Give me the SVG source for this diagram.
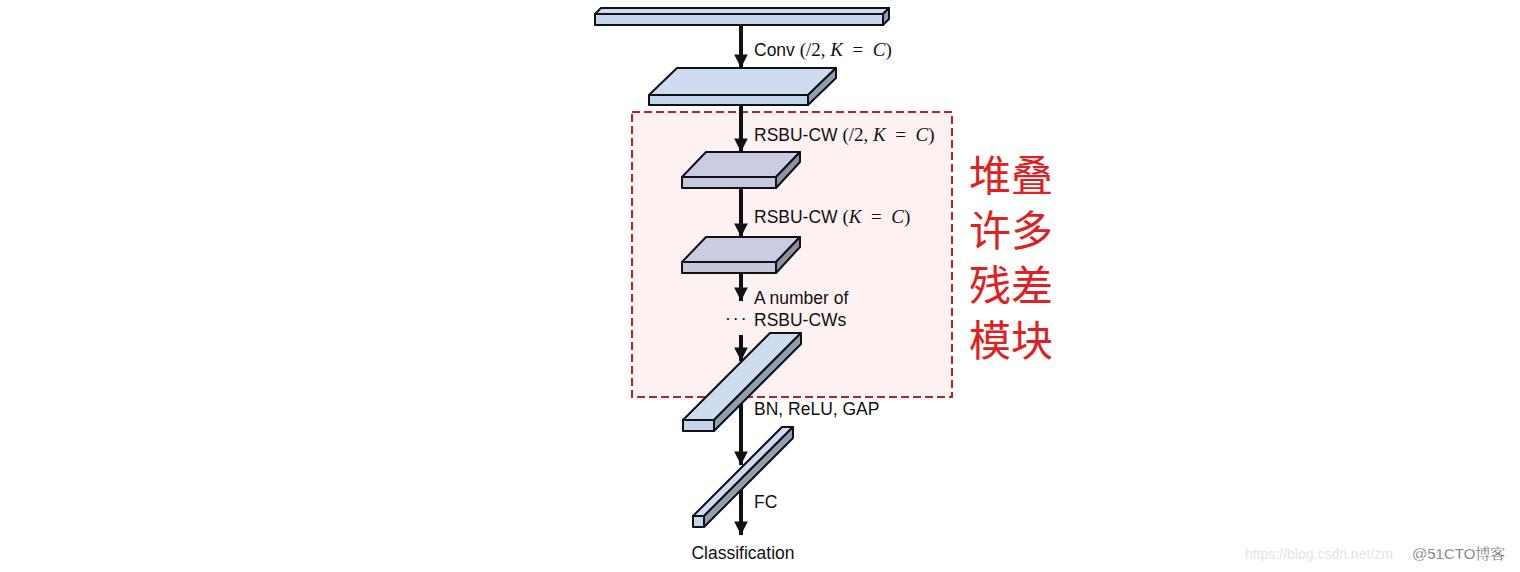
<svg xmlns="http://www.w3.org/2000/svg" width="1520" height="572" viewBox="0 0 1520 572">
<style>
.s{stroke:#111;stroke-width:2;stroke-linejoin:round}
.bf{fill:#c3d5ea}.bt{fill:#cddcee}.bs{fill:#8e9fb2}
.lf{fill:#c4c8df}.lt{fill:#c9cce2}.ls{fill:#8d90a6}
.lbl{font-family:"Liberation Sans",Arial,sans-serif;font-size:17.5px;fill:#111}
.m{font-family:"Liberation Serif","Times New Roman",serif;font-size:19px}
.i{font-style:italic}
.cn{font-family:"Noto Sans CJK SC",sans-serif;font-size:42px;fill:#e02020}
.c{stroke:#111;stroke-width:4;fill:none}
</style>
<defs>
<marker id="ah" viewBox="0 0 10 10" refX="10" refY="5" markerWidth="3.8" markerHeight="3.4" orient="auto" markerUnits="strokeWidth">
<path d="M0,0 L10,5 L0,10 z" fill="#111"/>
</marker>
</defs>
<rect width="1520" height="572" fill="#fff"/>
<g id="stack-box">
<rect x="632" y="112" width="320" height="285" fill="#fdf1f1" stroke="#b8232b" stroke-width="2" stroke-dasharray="8,4"/>
</g>
<g id="connectors">
<line class="c" x1="741" y1="25" x2="741" y2="68" marker-end="url(#ah)"/>
<line class="c" x1="741" y1="105" x2="741" y2="152" marker-end="url(#ah)"/>
<line class="c" x1="741" y1="188" x2="741" y2="237" marker-end="url(#ah)"/>
<line class="c" x1="741" y1="273" x2="741" y2="301" marker-end="url(#ah)"/>
<line class="c" x1="741" y1="335" x2="741" y2="361" marker-end="url(#ah)"/>
<line class="c" x1="741" y1="401" x2="741" y2="465" marker-end="url(#ah)"/>
<line class="c" x1="741" y1="489" x2="741" y2="535" marker-end="url(#ah)"/>
</g>
<g id="input">
<polygon class="s bt" points="595,14 601,8 889,8 883,14"/>
<polygon class="s bs" points="883,14 889,8 889,19 883,25"/>
<rect class="s bf" x="595" y="14" width="288" height="11"/>
</g>
<g id="conv">
<polygon class="s bt" points="649,95 677,68 836,68 808,95"/>
<polygon class="s bs" points="808,95 836,68 836,78 808,105"/>
<rect class="s bf" x="649" y="95" width="159" height="10"/>
</g>
<g id="rsbu1">
<polygon class="s lt" points="682,177 706,152 800,152 776,177"/>
<polygon class="s ls" points="776,177 800,152 800,162 776,188"/>
<rect class="s lf" x="682" y="177" width="94" height="11"/>
</g>
<g id="rsbu2">
<polygon class="s lt" points="682,262 706,237 800,237 776,262"/>
<polygon class="s ls" points="776,262 800,237 800,247 776,273"/>
<rect class="s lf" x="682" y="262" width="94" height="11"/>
</g>
<g id="rsbu-last">
<polygon class="s bt" points="683,420 770,333 801,333 714,420"/>
<polygon class="s bs" points="714,420 801,333 801,344 714,431"/>
<rect class="s bf" x="683" y="420" width="31" height="11"/>
</g>
<g id="fc">
<polygon class="s bt" points="693,516 782,427 793,427 704,516"/>
<polygon class="s bs" points="704,516 793,427 793,438 704,527"/>
<rect class="s bf" x="693" y="516" width="11" height="11"/>
</g>
<g id="labels">
<text class="lbl" x="754" y="56">Conv <tspan class="m">(/2, <tspan class="i">K</tspan>&#160;&#160;=&#160;&#160;<tspan class="i">C</tspan>)</tspan></text>
<text class="lbl" x="754" y="141">RSBU-CW <tspan class="m">(/2, <tspan class="i">K</tspan>&#160;&#160;=&#160;&#160;<tspan class="i">C</tspan>)</tspan></text>
<text class="lbl" x="754" y="223">RSBU-CW <tspan class="m">(<tspan class="i">K</tspan>&#160;&#160;=&#160;&#160;<tspan class="i">C</tspan>)</tspan></text>
<text class="lbl" x="754" y="304">A number of</text>
<text class="lbl" x="754" y="326">RSBU-CWs</text>
<text class="lbl" x="725" y="324" font-size="15" letter-spacing="2">···</text>
<text class="lbl" x="754" y="415">BN, ReLU, GAP</text>
<text class="lbl" x="754" y="508">FC</text>
<text class="lbl" x="743" y="559" text-anchor="middle">Classification</text>
</g>
<g id="note">
<text class="cn" x="969" y="191">堆叠</text>
<text class="cn" x="969" y="246">许多</text>
<text class="cn" x="969" y="301">残差</text>
<text class="cn" x="969" y="356">模块</text>
</g>
<g id="watermark">
<text x="1245" y="559" font-family="Liberation Sans,Arial,sans-serif" font-size="14" fill="#e4e4e4">https://blog.csdn.net/zm</text>
<text x="1412" y="559" font-family="Liberation Sans,'Noto Sans CJK SC',sans-serif" font-size="15" fill="#555" stroke="#fff" stroke-width="0.3">@51CTO博客</text>
</g>
</svg>
